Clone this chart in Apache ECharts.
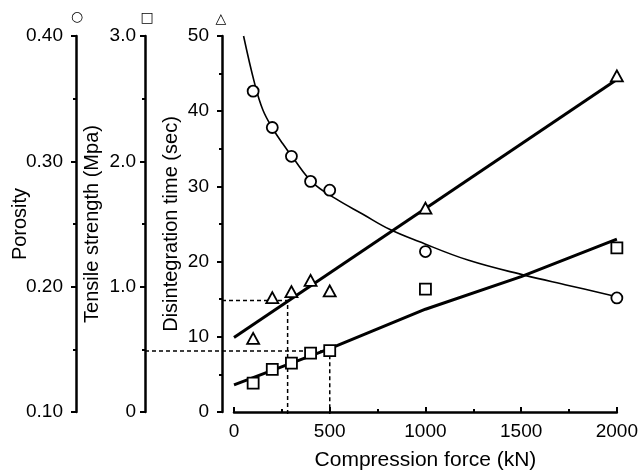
<!DOCTYPE html>
<html>
<head>
<meta charset="utf-8">
<script src="https://cdn.jsdelivr.net/npm/echarts@6/dist/echarts.min.js"></script>
<style>html,body{margin:0;padding:0;background:#fff}#c{width:641px;height:476px}</style>
</head>
<body>
<div id="c"></div>
<script>
// Measured points (compression force in kN)
const forceX = [100, 200, 300, 400, 500, 1000, 2000];
const porosity = [0.356, 0.327, 0.304, 0.284, 0.277, 0.228, 0.191];
const tensile = [0.23, 0.34, 0.39, 0.47, 0.49, 0.98, 1.31];
const disint = [9.8, 15.2, 16.0, 17.5, 16.1, 27.1, 44.7];

// Fitted curves
const porosityCurveX = [50, 108, 151, 203, 255, 307, 411, 533, 671, 810, 966, 1226, 1521, 1747, 2000];
const porosityCurveY = [0.400, 0.362, 0.341, 0.326, 0.314, 0.303, 0.283, 0.270, 0.258, 0.246, 0.236, 0.221, 0.209, 0.201, 0.192];
const tensileFitX = [0, 500, 1000, 1500, 2000];
const tensileFitY = [0.216, 0.505, 0.82, 1.08, 1.38];
const disintFitX = [0, 2000];
const disintFitY = [9.9, 44.2];

// Guide (dashed) readings
const guideDisint = { force: 280, value: 15 };
const guideTensile = { force: 500, value: 0.5 };

const xTicks = [0, 500, 1000, 1500, 2000];
const axisKeys = ['○', '□', '△'];

const FONT = "'Liberation Sans', Arial, Helvetica, sans-serif";
const W = 641, GRID_LEFT = 234, GRID_RIGHT = 24, GRID_TOP = 36, GRID_BOTTOM = 62;
const OFF_DIS = 12, OFF_TEN = 89, OFF_POR = 158;

const X_MIN = xTicks[0], X_MAX = xTicks[xTicks.length - 1];
const kPerPx = (X_MAX - X_MIN) / (W - GRID_LEFT - GRID_RIGHT);
const startDis = X_MIN - OFF_DIS * kPerPx;
const startTen = X_MIN - OFF_TEN * kPerPx;

const zip = (a, b) => a.map((v, i) => [v, b[i]]);

const chart = echarts.init(document.getElementById('c'), null, { renderer: 'canvas' });

function yAxisDef(extra) {
  return Object.assign({
    type: 'value',
    position: 'left',
    gridIndex: 0,
    splitLine: { show: false },
    axisLine: { show: true, onZero: false, lineStyle: { color: '#000', width: 2.5 } },
    axisTick: { show: true, length: 5, lineStyle: { color: '#000', width: 2 } },
    minorTick: { show: true, splitNumber: 2, length: 3, lineStyle: { color: '#000', width: 2 } },
    nameLocation: 'middle',
    nameMoveOverlap: false,
    nameTextStyle: { color: '#000', fontSize: 20, fontFamily: FONT }
  }, extra);
}

const hidden = { show: false, splitLine: { show: false } };
const hollow = { color: '#fff', borderColor: '#000', borderWidth: 1.8, opacity: 1 };
const dashed = { color: '#000', width: 1.5, type: [4, 3] };
const keyStyle = { color: '#000', fontSize: 14, fontWeight: 'bold', fontFamily: "'DejaVu Sans', sans-serif" };

chart.setOption({
  animation: false,
  backgroundColor: '#fff',
  grid: [
    { left: GRID_LEFT, right: GRID_RIGHT, top: GRID_TOP, bottom: GRID_BOTTOM, containLabel: false },
    // invisible helper grid that reaches the tensile axis, for the dashed reading guides
    { left: GRID_LEFT - OFF_TEN, right: GRID_RIGHT, top: GRID_TOP, bottom: GRID_BOTTOM, containLabel: false }
  ],
  title: [
    { text: axisKeys[0], left: GRID_LEFT - OFF_POR + 1, top: 10, textAlign: 'center', padding: 0, textStyle: keyStyle },
    { text: axisKeys[1], left: GRID_LEFT - OFF_TEN + 2, top: 11, textAlign: 'center', padding: 0, textStyle: keyStyle },
    { text: axisKeys[2], left: GRID_LEFT - OFF_DIS - 1, top: 12, textAlign: 'center', padding: 0, textStyle: keyStyle }
  ],
  xAxis: [{
    type: 'value',
    gridIndex: 0,
    min: X_MIN, max: X_MAX, interval: 500,
    splitLine: { show: false },
    axisLine: { show: true, onZero: false, lineStyle: { color: '#000', width: 2.5 } },
    axisTick: { show: true, inside: true, length: 5, lineStyle: { color: '#000', width: 2 } },
    minorTick: { show: true, splitNumber: 2, length: 3, lineStyle: { color: '#000', width: 2 } },
    axisLabel: { color: '#000', fontSize: 19, fontFamily: FONT, margin: 10, formatter: v => String(v) },
    name: 'Compression force (kN)',
    nameLocation: 'middle',
    nameGap: 38,
    nameMoveOverlap: false,
    nameTextStyle: { color: '#000', fontSize: 21, fontFamily: FONT }
  }, Object.assign({ type: 'value', gridIndex: 1, min: startTen, max: X_MAX }, hidden)],
  yAxis: [
    yAxisDef({
      min: 0, max: 50, interval: 10, offset: OFF_DIS,
      name: 'Disintegration time (sec)', nameGap: 41,
      axisLabel: { color: '#000', fontSize: 19, fontFamily: FONT, margin: 13 }
    }),
    yAxisDef({
      min: 0, max: 3, interval: 1, offset: OFF_TEN,
      name: 'Tensile strength (Mpa)', nameGap: 43,
      axisLabel: { color: '#000', fontSize: 19, fontFamily: FONT, margin: 9, formatter: v => v === 0 ? '0' : v.toFixed(1) }
    }),
    yAxisDef({
      min: 0.1, max: 0.4, interval: 0.1, offset: OFF_POR,
      name: 'Porosity', nameGap: 46,
      axisLabel: { color: '#000', fontSize: 19, fontFamily: FONT, margin: 13, formatter: v => v.toFixed(2) }
    }),
    Object.assign({ type: 'value', gridIndex: 1, min: 0, max: 50 }, hidden),
    Object.assign({ type: 'value', gridIndex: 1, min: 0, max: 3 }, hidden)
  ],
  series: [
    { name: 'guide disint', type: 'line', xAxisIndex: 1, yAxisIndex: 3, symbol: 'none', showSymbol: false, lineStyle: dashed, z: 1,
      data: [[startDis, guideDisint.value], [guideDisint.force, guideDisint.value], [guideDisint.force, 0]] },
    { name: 'guide tensile', type: 'line', xAxisIndex: 1, yAxisIndex: 4, symbol: 'none', showSymbol: false, lineStyle: dashed, z: 1,
      data: [[startTen, guideTensile.value], [guideTensile.force, guideTensile.value], [guideTensile.force, 0]] },
    { name: 'Porosity fit', type: 'line', yAxisIndex: 2, data: zip(porosityCurveX, porosityCurveY), smooth: 0.4, showSymbol: false, symbol: 'none', lineStyle: { color: '#000', width: 1.6 }, z: 2 },
    { name: 'Tensile fit', type: 'line', yAxisIndex: 1, data: zip(tensileFitX, tensileFitY), showSymbol: false, symbol: 'none', lineStyle: { color: '#000', width: 3 }, z: 2 },
    { name: 'Disintegration fit', type: 'line', yAxisIndex: 0, data: zip(disintFitX, disintFitY), showSymbol: false, symbol: 'none', lineStyle: { color: '#000', width: 3 }, z: 2 },
    { name: 'Porosity', type: 'scatter', yAxisIndex: 2, data: zip(forceX, porosity), symbol: 'circle', symbolSize: 11, itemStyle: hollow, z: 5 },
    { name: 'Tensile strength', type: 'scatter', yAxisIndex: 1, data: zip(forceX, tensile), symbol: 'rect', symbolSize: 11, itemStyle: hollow, z: 5 },
    { name: 'Disintegration time', type: 'scatter', yAxisIndex: 0, data: zip(forceX, disint), symbol: 'triangle', symbolSize: [12, 11], itemStyle: hollow, z: 5 }
  ]
});
</script>
</body>
</html>
